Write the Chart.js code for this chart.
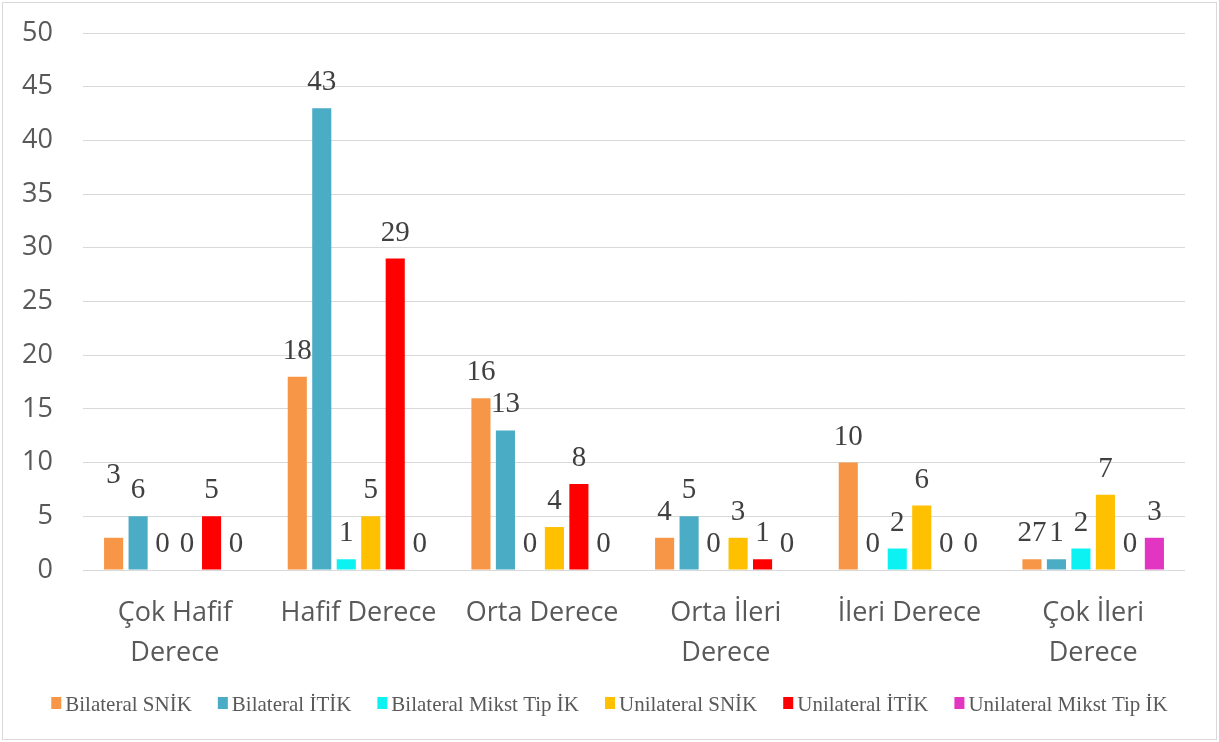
<!DOCTYPE html>
<html>
<head>
<meta charset="utf-8">
<script src="https://cdn.jsdelivr.net/npm/chart.js@4.4.1/dist/chart.umd.min.js"></script>
<style>
  html, body { margin: 0; padding: 0; background: #fff; }
  #wrap { width: 1219px; height: 742px; }
</style>
</head>
<body>
<div id="wrap"><canvas id="chart" width="1219" height="742"></canvas></div>
<script>
// Categories (multi-line labels like in the original)
const categories = [
    ['Çok Hafif', 'Derece'],
    'Hafif Derece',
    'Orta Derece',
    ['Orta İleri', 'Derece'],
    'İleri Derece',
    ['Çok İleri', 'Derece']
];

const seriesNames = [
    'Bilateral SNİK',
    'Bilateral İTİK',
    'Bilateral Mikst Tip İK',
    'Unilateral SNİK',
    'Unilateral İTİK',
    'Unilateral Mikst Tip İK'
];

// Bar heights as drawn
const bilateralSnik = [3, 18, 16, 3, 10, 1];
const bilateralItik = [5, 43, 13, 5, 0, 1];
const bilateralMikst = [0, 1, 0, 0, 2, 2];
const unilateralSnik = [0, 5, 4, 3, 6, 7];
const unilateralItik = [5, 29, 8, 1, 0, 0];
const unilateralMikst = [0, 0, 0, 0, 0, 3];

// Data labels as printed on the chart (they don't always match the bars)
const bilateralSnikLabels = ['3', '18', '16', '4', '10', '27'];
const bilateralItikLabels = ['6', '43', '13', '5', '0', '1'];
const bilateralMikstLabels = ['0', '1', '0', '0', '2', '2'];
const unilateralSnikLabels = ['0', '5', '4', '3', '6', '7'];
const unilateralItikLabels = ['5', '29', '8', '1', '0', '0'];
const unilateralMikstLabels = ['0', '0', '0', '0', '0', '3'];

const yTicks = [0, 5, 10, 15, 20, 25, 30, 35, 40, 45, 50];

const colors = ['#F79646', '#4BACC6', '#0CF2F2', '#FFC000', '#FF0000', '#E235C2'];

const seriesValues = [bilateralSnik, bilateralItik, bilateralMikst, unilateralSnik, unilateralItik, unilateralMikst];
const seriesLabels = [bilateralSnikLabels, bilateralItikLabels, bilateralMikstLabels, unilateralSnikLabels, unilateralItikLabels, unilateralMikstLabels];

// the "3" above the first orange bar sits higher than the others
const labelNudge = { '0,0': -37 };

// White background + thin frame
const frame = {
    id: 'frame',
    beforeDraw(chart) {
        const ctx = chart.ctx;
        ctx.save();
        ctx.fillStyle = '#fff';
        ctx.fillRect(0, 0, chart.width, chart.height);
        ctx.strokeStyle = '#d9d9d9';
        ctx.lineWidth = 1;
        ctx.strokeRect(2.5, 2.5, chart.width - 5, chart.height - 5);
        ctx.restore();
    }
};

// Value labels above bars
const barLabels = {
    id: 'barLabels',
    afterDatasetsDraw(chart) {
        const ctx = chart.ctx;
        ctx.save();
        ctx.font = '29px "Liberation Serif"';
        ctx.fillStyle = '#404040';
        ctx.textAlign = 'center';
        ctx.textBaseline = 'alphabetic';
        chart.data.datasets.forEach((ds, i) => {
            chart.getDatasetMeta(i).data.forEach((bar, j) => {
                const dy = labelNudge[i + ',' + j] || 0;
                ctx.fillText(seriesLabels[i][j], bar.x, bar.y - 18 + dy);
            });
        });
        ctx.restore();
    }
};

// Compact legend at the bottom (small squares tight to the text)
const bottomLegend = {
    id: 'bottomLegend',
    afterDraw(chart) {
        const ctx = chart.ctx;
        ctx.save();
        ctx.font = '21px "Liberation Serif"';
        ctx.textBaseline = 'alphabetic';
        const box = 10, gapText = 4, gapItem = 26;
        const widths = seriesNames.map(n => ctx.measureText(n).width);
        let total = 0;
        widths.forEach((w, i) => {
            total += box + gapText + w + (i < widths.length - 1 ? gapItem : 0);
        });
        let x = (chart.width - total) / 2;
        const baseY = 711;
        seriesNames.forEach((name, i) => {
            ctx.fillStyle = colors[i];
            ctx.fillRect(x, 697, box, 12);
            ctx.fillStyle = '#595959';
            ctx.fillText(name, x + box + gapText, baseY);
            x += box + gapText + widths[i] + gapItem;
        });
        ctx.restore();
    }
};

const ctx = document.getElementById('chart').getContext('2d');

new Chart(ctx, {
    type: 'bar',
    data: {
        labels: categories,
        datasets: seriesNames.map((name, i) => ({
            label: name,
            data: seriesValues[i],
            backgroundColor: colors[i],
            borderWidth: 0,
            categoryPercentage: 0.8,
            barPercentage: 0.78
        }))
    },
    options: {
        responsive: false,
        animation: false,
        layout: {
            padding: { left: 0, top: 33, right: 34, bottom: 72 }
        },
        plugins: {
            legend: { display: false },
            tooltip: { enabled: false }
        },
        scales: {
            x: {
                grid: { display: false },
                border: { display: false },
                ticks: {
                    color: '#595959',
                    padding: 15,
                    maxRotation: 0,
                    autoSkip: false,
                    font: { family: '"Open Sans"', size: 27, lineHeight: 1.48 }
                },
                afterFit: function(scale) {
                    scale.height = 100;
                }
            },
            y: {
                min: 0,
                max: 50,
                grid: {
                    color: '#d9d9d9',
                    lineWidth: 1,
                    drawTicks: false
                },
                border: { display: false },
                afterBuildTicks: function(scale) {
                    scale.ticks = yTicks.map(v => ({ value: v }));
                },
                ticks: {
                    color: '#595959',
                    padding: 30,
                    font: { family: '"Open Sans"', size: 27 }
                },
                afterFit: function(scale) {
                    scale.width = 83;
                    // tick padding is only meant as the horizontal gap
                    scale.paddingTop = 0;
                    scale.paddingBottom = 0;
                }
            }
        }
    },
    plugins: [frame, barLabels, bottomLegend]
});
</script>
</body>
</html>
